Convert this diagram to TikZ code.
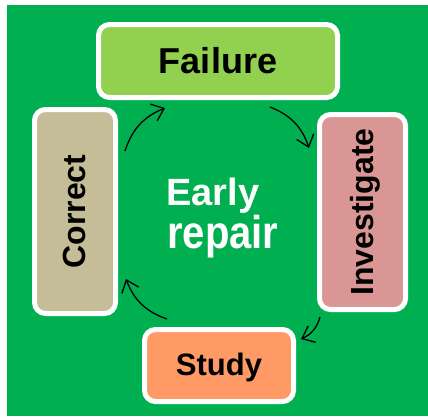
\documentclass[tikz,border=0pt]{standalone}
\usepackage{fontspec}
\usepackage{graphicx}
\setmainfont{Liberation Sans}
\usetikzlibrary{arrows.meta}
\definecolor{bggreen}{HTML}{00B050}
\definecolor{failc}{HTML}{92D050}
\definecolor{corrc}{HTML}{C4BD97}
\definecolor{invc}{HTML}{D99694}
\definecolor{studc}{HTML}{FF9966}
\tikzset{
  stagebox/.style={draw=white, line width=5pt, rounded corners=11pt, inner sep=0pt,
    text depth=0pt, font=\bfseries},
  cyclearrow/.style={line width=1.3pt, black, bend left=25,
    -{Straight Barb[length=11pt,width=18pt,line width=1.3pt]}},
  centertext/.style={text=white, font=\bfseries, inner sep=0pt, anchor=base west}
}
\begin{document}
\begin{tikzpicture}[x=1pt,y=-1pt]
\useasboundingbox (0,0) rectangle (428,416);
\fill[bggreen] (7,5) rectangle (428,416);

\node[stagebox, fill=failc, minimum width=239pt, minimum height=73pt, text height=24pt,
  font=\bfseries\fontsize{36}{40}\selectfont] (fail) at (218,61) {Failure};
\node[stagebox, fill=corrc, rotate=90, minimum width=204pt, minimum height=81pt, text height=20pt,
  font=\bfseries\fontsize{32}{36}\selectfont] (corr) at (75,211.5) {Correct};
\node[stagebox, fill=invc, rotate=90, minimum width=195pt, minimum height=86pt, text height=21pt,
  font=\bfseries\fontsize{32}{36}\selectfont] (inv) at (362.5,212) {Investigate};
\node[stagebox, fill=studc, minimum width=149pt, minimum height=72pt, text height=20pt,
  font=\bfseries\fontsize{31}{35}\selectfont] (stud) at (219,365.5) {Study};

\node[centertext, font=\bfseries\fontsize{38}{40}\selectfont] (early) at (166,205) {Early};
\node[centertext, font=\bfseries\fontsize{40}{44}\selectfont] (repair) at (167,248) {\scalebox{1}[1.15]{repair}};

\coordinate (a1s) at (270,107);
\coordinate (a1e) at (309,148);
\coordinate (a2s) at (320,317);
\coordinate (a2e) at (301,339);
\coordinate (a3s) at (167,319);
\coordinate (a3e) at (126,279);
\coordinate (a4s) at (125,151);
\coordinate (a4e) at (165,108);

\draw[cyclearrow] (a1s) to (a1e);
\draw[cyclearrow] (a2s) to (a2e);
\draw[cyclearrow] (a3s) to (a3e);
\draw[cyclearrow] (a4s) to (a4e);
\end{tikzpicture}
\end{document}
